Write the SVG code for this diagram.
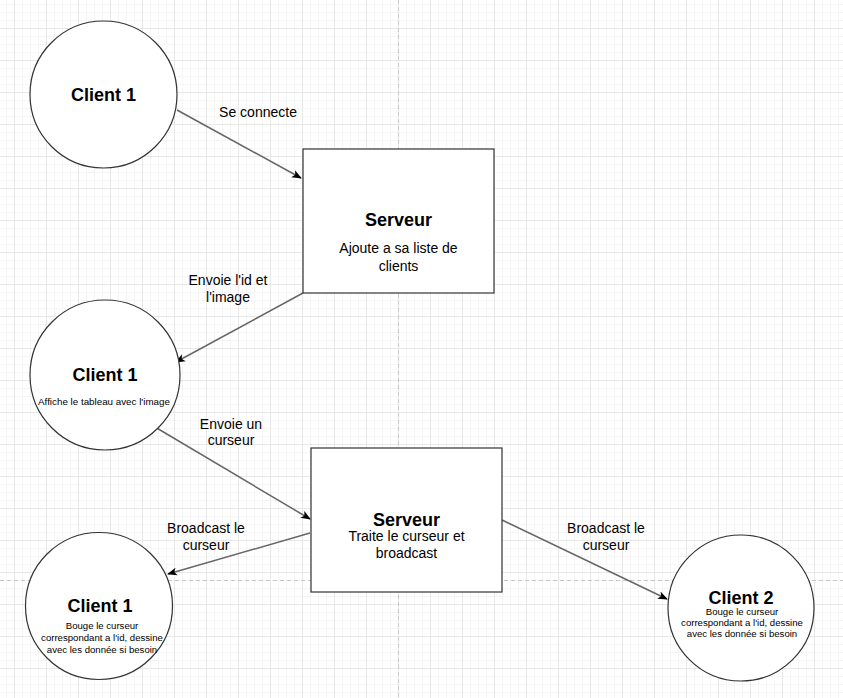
<svg xmlns="http://www.w3.org/2000/svg" width="843" height="698" viewBox="0 0 843 698">
<defs>
<pattern id="minor" x="14" y="-4" width="8" height="8" patternUnits="userSpaceOnUse">
<path d="M0 0.5H8M0.5 0V8" fill="none" stroke="#f5f5f5" stroke-width="1"/>
</pattern>
<pattern id="major" x="14" y="-4" width="32" height="32" patternUnits="userSpaceOnUse">
<path d="M0 0.5H32M0.5 0V32" fill="none" stroke="#e8e8e8" stroke-width="1"/>
</pattern>
<marker id="arr" viewBox="0 0 10 10" refX="9" refY="5" markerWidth="10" markerHeight="10" markerUnits="userSpaceOnUse" orient="auto">
<path d="M0 1L10 5L0 9L2.5 5Z" fill="#000"/>
</marker>
<style>
.node{fill:#fff;stroke:#333;stroke-width:1.2}
.t{font-family:"Liberation Sans",Arial,sans-serif;fill:#000;text-anchor:middle;dominant-baseline:central}
.b{font-weight:bold;font-size:18px}
.m{font-size:14px}
.s{font-size:9.6px}
.xs{font-size:9.8px}
.edge{stroke:#666;stroke-width:1.5;fill:none;marker-end:url(#arr)}
</style>
</defs>
<rect width="843" height="698" fill="#fff"/>
<rect width="843" height="698" fill="url(#minor)"/>
<rect width="843" height="698" fill="url(#major)"/>
<path d="M398.5 0V698M0 580.5H843" stroke="#c8c8c8" stroke-width="1" stroke-dasharray="4 3" fill="none"/>

<g id="connectors">
<path class="edge" d="M177 110L301 178"/>
<path class="edge" d="M303 293L176 362"/>
<path class="edge" d="M155 427L310 519"/>
<path class="edge" d="M310 533L168 574"/>
<path class="edge" d="M502 520L667 599"/>
<text class="t m" x="258" y="112">Se connecte</text>
<text class="t m" x="228" y="280">Envoie l'id et</text>
<text class="t m" x="228" y="297">l'image</text>
<text class="t m" x="231" y="424">Envoie un</text>
<text class="t m" x="231" y="440">curseur</text>
<text class="t m" x="206" y="528">Broadcast le</text>
<text class="t m" x="206" y="545">curseur</text>
<text class="t m" x="606" y="528">Broadcast le</text>
<text class="t m" x="606" y="545">curseur</text>
</g>

<g id="client1-top">
<circle class="node" cx="103.5" cy="94.5" r="73.5"/>
<text class="t b" x="103.5" y="95">Client 1</text>
</g>

<g id="serveur1">
<rect class="node" x="303" y="149" width="191" height="144"/>
<text class="t b" x="398.5" y="220">Serveur</text>
<text class="t m" x="398.5" y="248">Ajoute a sa liste de</text>
<text class="t m" x="398.5" y="266">clients</text>
</g>

<g id="client1-mid">
<circle class="node" cx="105" cy="375" r="75"/>
<text class="t b" x="105" y="375">Client 1</text>
<text class="t xs" x="104" y="401">Affiche le tableau avec l'image</text>
</g>

<g id="serveur2">
<rect class="node" x="311" y="448" width="191" height="144"/>
<text class="t b" x="406.5" y="520">Serveur</text>
<text class="t m" x="406.5" y="536">Traite le curseur et</text>
<text class="t m" x="406.5" y="553">broadcast</text>
</g>

<g id="client1-bottom">
<circle class="node" cx="99" cy="606" r="73.5"/>
<text class="t b" x="100" y="606">Client 1</text>
<text class="t s" x="102" y="625">Bouge le curseur</text>
<text class="t s" x="102" y="637">correspondant a l'id, dessine</text>
<text class="t s" x="102" y="649">avec les donnée si besoin</text>
</g>

<g id="client2">
<circle class="node" cx="741" cy="608" r="73"/>
<text class="t b" x="741" y="598">Client 2</text>
<text class="t s" x="742" y="611">Bouge le curseur</text>
<text class="t s" x="742" y="622">correspondant a l'id, dessine</text>
<text class="t s" x="742" y="633">avec les donnée si besoin</text>
</g>
</svg>
